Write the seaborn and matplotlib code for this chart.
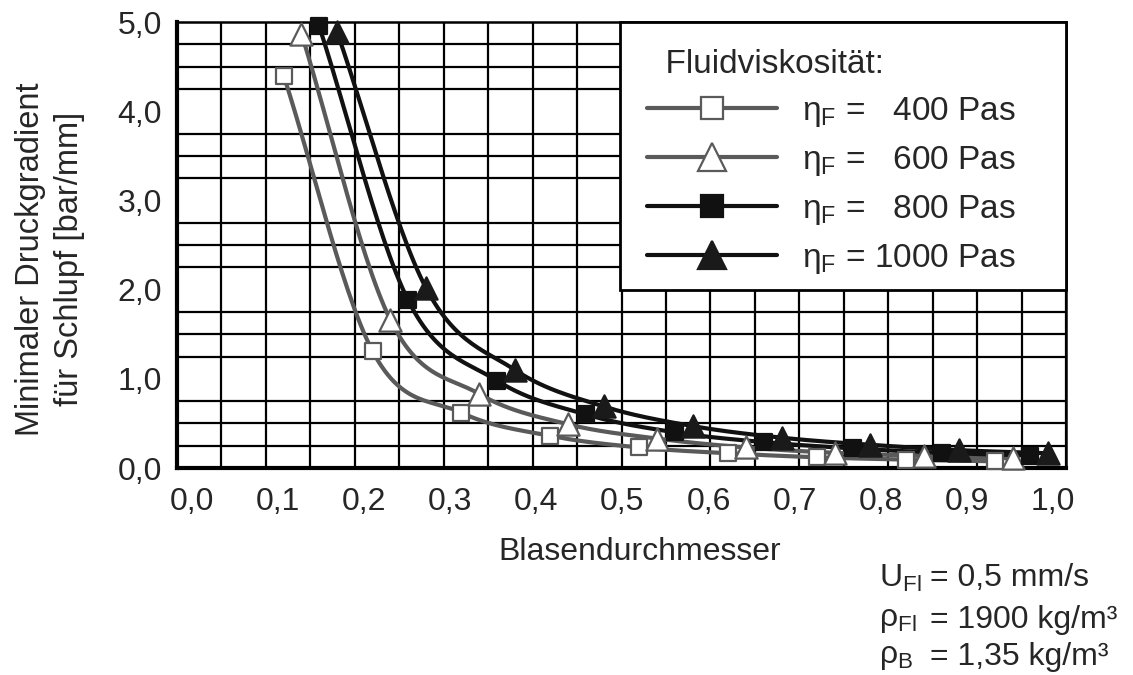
import numpy as np
import pandas as pd
import matplotlib
matplotlib.use("Agg")
import matplotlib.pyplot as plt
from matplotlib.lines import Line2D
from matplotlib.patches import Rectangle
import seaborn as sns

# ---------------- data ----------------
x_400 = [0.12, 0.22, 0.32, 0.42, 0.52, 0.62, 0.72, 0.82, 0.92]
y_400 = [4.40, 1.31, 0.62, 0.36, 0.23, 0.165, 0.12, 0.094, 0.075]
x_600 = [0.14, 0.24, 0.34, 0.44, 0.54, 0.64, 0.74, 0.84, 0.94]
y_600 = [4.87, 1.66, 0.83, 0.49, 0.33, 0.23, 0.17, 0.135, 0.108]
x_800 = [0.16, 0.26, 0.36, 0.46, 0.56, 0.66, 0.76, 0.86, 0.96]
y_800 = [4.95, 1.88, 0.98, 0.60, 0.40, 0.29, 0.22, 0.17, 0.14]
x_1000 = [0.18, 0.28, 0.38, 0.48, 0.58, 0.68, 0.78, 0.88, 0.98]
y_1000 = [4.89, 2.02, 1.10, 0.69, 0.47, 0.34, 0.26, 0.20, 0.165]

series_labels = ["η$_\\mathrm{F}$ =   400 Pas", "η$_\\mathrm{F}$ =   600 Pas",
                 "η$_\\mathrm{F}$ =   800 Pas", "η$_\\mathrm{F}$ = 1000 Pas"]
x_tick_labels = ["0,0", "0,1", "0,2", "0,3", "0,4", "0,5", "0,6", "0,7", "0,8", "0,9", "1,0"]
y_tick_values = [0, 1, 2, 3, 4, 5]
y_tick_labels = ["0,0", "1,0", "2,0", "3,0", "4,0", "5,0"]
legend_title = "  Fluidviskosität:"
x_label = "Blasendurchmesser"
y_label = "Minimaler Druckgradient\nfür Schlupf [bar/mm]"

# ---------------- style ----------------
sns.set_style("white")
plt.rcParams["font.family"] = ["Liberation Sans", "DejaVu Sans"]
plt.rcParams["mathtext.fontset"] = "custom"
plt.rcParams["mathtext.rm"] = "Liberation Sans"
plt.rcParams["mathtext.it"] = "Liberation Sans"
plt.rcParams["mathtext.bf"] = "Liberation Sans:bold"

GREY = "#5a5a5a"
BLACK = "#111111"
FS = 23

styles = [
    dict(color=GREY, marker="s", fc="white", ec=GREY, ms=12),
    dict(color=GREY, marker="^", fc="white", ec=GREY, ms=16),
    dict(color=BLACK, marker="s", fc=BLACK, ec=BLACK, ms=12),
    dict(color=BLACK, marker="^", fc="#1a1a1a", ec="#1a1a1a", ms=16),
]


def smooth(xs, ys, n=30):
    """Catmull-Rom smoothing of the drawn line (like spreadsheet 'smoothed lines')."""
    P = np.column_stack([xs, ys]).astype(float)
    m = np.zeros_like(P)
    m[1:-1] = (P[2:] - P[:-2]) / 2.0
    m[0] = P[1] - P[0]
    m[-1] = P[-1] - P[-2]
    out = []
    t = np.linspace(0, 1, n)[:, None]
    h00 = 2 * t**3 - 3 * t**2 + 1
    h10 = t**3 - 2 * t**2 + t
    h01 = -2 * t**3 + 3 * t**2
    h11 = t**3 - t**2
    for i in range(len(P) - 1):
        seg = h00 * P[i] + h10 * m[i] + h01 * P[i + 1] + h11 * m[i + 1]
        out.append(seg if i == 0 else seg[1:])
    out = np.vstack(out)
    return pd.DataFrame({"x": out[:, 0], "y": out[:, 1]})


fig = plt.figure(figsize=(11.33, 6.75), dpi=100)
ax = fig.add_axes([177 / 1133, 1 - 468 / 675, (1066 - 177) / 1133, (468 - 22) / 675])

data = [(x_400, y_400), (x_600, y_600), (x_800, y_800), (x_1000, y_1000)]
for (xs, ys), st in zip(data, styles):
    sm = smooth(xs, ys)
    sns.lineplot(data=sm, x="x", y="y", ax=ax, color=st["color"], lw=3,
                 sort=False, estimator=None, zorder=3, legend=False)
for (xs, ys), st in zip(data, styles):
    pts = pd.DataFrame({"x": xs, "y": ys})
    sns.scatterplot(data=pts, x="x", y="y", ax=ax, marker=st["marker"],
                    s=st["ms"] ** 2, color=st["fc"], edgecolor=st["ec"],
                    linewidth=1.6, zorder=4, clip_on=False, legend=False)

ax.set_xlim(0, 1)
ax.set_ylim(0, 5)

# grid: every 0.05 in x and 0.25 in y
ax.set_xticks(np.arange(0, 1.0001, 0.05), minor=True)
ax.set_yticks(np.arange(0, 5.0001, 0.25), minor=True)
ax.grid(which="minor", color="black", lw=1.6, zorder=1)
ax.grid(which="major", visible=False)
ax.set_axisbelow(True)

# tick labels (x labels sit on their own slightly compressed spacing in the original)
ax.set_xticks(np.linspace(0.017, 0.985, len(x_tick_labels)))
ax.set_xticklabels(x_tick_labels, fontsize=FS)
ax.set_yticks(y_tick_values)
ax.set_yticklabels(y_tick_labels, fontsize=FS)
ax.tick_params(which="both", length=0)
ax.tick_params(axis="x", pad=14)
ax.tick_params(axis="y", pad=11)

for side in ["left", "bottom"]:
    ax.spines[side].set_linewidth(3)
    ax.spines[side].set_color("black")
for side in ["top", "right"]:
    ax.spines[side].set_linewidth(1.8)
    ax.spines[side].set_color("black")

ax.set_xlabel(x_label, fontsize=FS)
ax.xaxis.set_label_coords(0.52, -0.155)
ax.set_ylabel(y_label, fontsize=23.5, linespacing=1.32)
ax.yaxis.set_label_coords((85 - 177) / (1066 - 177), (468 - 259) / (468 - 22))

# legend (white box with black frame spanning the upper right of the plot)
x0 = (620 - 177) / (1066 - 177)
y0 = (468 - 290) / (468 - 22)
ax.add_patch(Rectangle((x0, y0), 1 - x0, 1 - y0, transform=ax.transAxes,
                       facecolor="white", edgecolor="black", lw=2, zorder=6,
                       clip_on=False))
handles = [Line2D([], [], color=st["color"], lw=3, marker=st["marker"],
                  markersize=st["ms"] * 1.35 if st["marker"] == "s" else st["ms"] * 1.25,
                  markerfacecolor=st["fc"], markeredgecolor=st["ec"], markeredgewidth=1.6)
           for st in styles]
leg = ax.legend(handles, series_labels, title=legend_title, loc="upper left",
                bbox_to_anchor=(x0, 0, 1 - x0, 1), mode="expand", borderaxespad=0,
                frameon=False, fontsize=24, title_fontsize=24,
                handlelength=3.9, handletextpad=0.75, labelspacing=0.45, borderpad=0.8,
                alignment="left")
leg.set_zorder(10)

# parameter annotation
PFS = 23
fig.text(879 / 1133, 1 - 578 / 675, "U$_\\mathrm{Fl}$", fontsize=PFS, va="center")
fig.text(930 / 1133, 1 - 578 / 675, "= 0,5 mm/s", fontsize=PFS, va="center")
fig.text(879 / 1133, 1 - 620 / 675, "ρ$_\\mathrm{Fl}$", fontsize=PFS, va="center")
fig.text(930 / 1133, 1 - 620 / 675, "= 1900 kg/m³", fontsize=PFS, va="center")
fig.text(879 / 1133, 1 - 657 / 675, "ρ$_\\mathrm{B}$", fontsize=PFS, va="center")
fig.text(930 / 1133, 1 - 657 / 675, "= 1,35 kg/m³", fontsize=PFS, va="center")

fig.savefig("out.png", dpi=100)
